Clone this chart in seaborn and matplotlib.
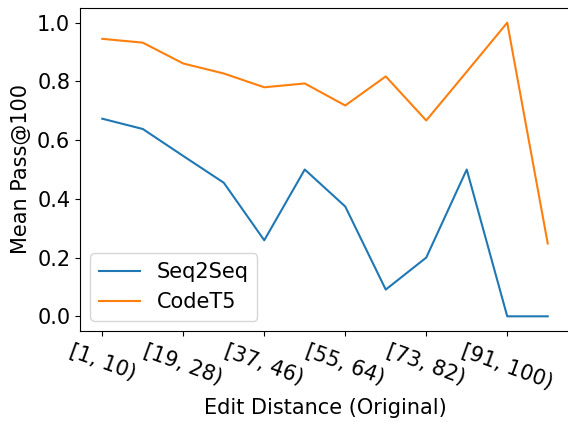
import pandas as pd
import matplotlib
matplotlib.use("Agg")
import matplotlib.pyplot as plt
import seaborn as sns

bins = ["[1, 10)", "[10, 19)", "[19, 28)", "[28, 37)", "[37, 46)", "[46, 55)",
        "[55, 64)", "[64, 73)", "[73, 82)", "[82, 91)", "[91, 100)", "[100, 109)"]
seq2seq = [0.673, 0.638, 0.546, 0.455, 0.259, 0.5, 0.374, 0.091, 0.2, 0.5, 0.0, 0.0]
codet5 = [0.945, 0.932, 0.861, 0.827, 0.780, 0.793, 0.718, 0.817, 0.667, 0.833, 1.0, 0.248]

df = pd.DataFrame({
    "bin_idx": list(range(len(bins))) * 2,
    "pass100": seq2seq + codet5,
    "model": ["Seq2Seq"] * len(bins) + ["CodeT5"] * len(bins),
})

plt.rcParams["font.size"] = 15
fig = plt.figure(figsize=(5.68, 4.22), dpi=100)
ax = fig.add_axes([80 / 568, 91 / 422, 490 / 568, 323 / 422])
sns.lineplot(data=df, x="bin_idx", y="pass100", hue="model", ax=ax)
ax.set_xticks(range(0, len(bins), 2))
ax.set_xticklabels(bins[::2], rotation=-20)
ax.set_xlabel("Edit Distance (Original)")
ax.set_ylabel("Mean Pass@100")
ax.legend(loc="lower left")
fig.savefig("out.png", dpi=100)
